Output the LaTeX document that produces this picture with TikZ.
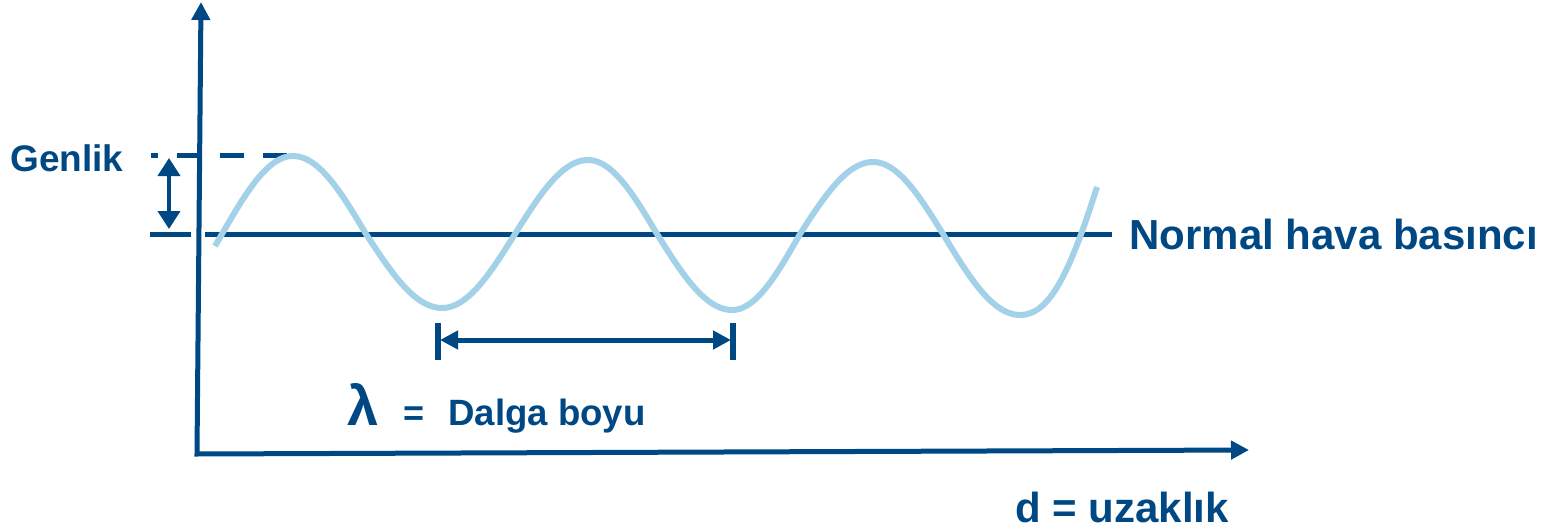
\documentclass[tikz,border=0pt]{standalone}
\usepackage{fontspec}
\setmainfont{Liberation Sans}
\usetikzlibrary{arrows.meta}
\definecolor{dblue}{RGB}{0,72,132}
\definecolor{lblue}{RGB}{163,210,232}
\begin{document}
\begin{tikzpicture}[x=0.5pt,y=-0.5pt,
  axisline/.style={draw=dblue,line width=2.5pt},
  lbl/.style={text=dblue,inner sep=0pt,font=\bfseries},
  wave/.style={draw=lblue,line width=3pt,line join=round}]
\useasboundingbox (0,0) rectangle (1560,530);
% axes
\coordinate (O) at (197,454);
\coordinate (ytop) at (201,2);
\coordinate (xend) at (1249,450);
\draw[axisline,{Triangle[length=9pt,width=9pt]}-{Triangle[length=9pt,width=9pt]}] (ytop) -- (O) -- (xend);
% normal pressure line
\coordinate (nl) at (205,234);
\coordinate (nr) at (1112,234);
\draw[axisline] (nl) -- (nr);
\coordinate (tl) at (150,234);
\coordinate (tr) at (191,234);
\draw[axisline] (tl) -- (tr);
% dashed amplitude level
\coordinate (dl) at (151,155);
\coordinate (dr) at (287,155);
\draw[axisline,dash pattern=on 12pt off 9.5pt,dash phase=8.5pt] (dl) -- (dr);
% amplitude arrow
\coordinate (at) at (169,158);
\coordinate (ab) at (169,229);
\draw[draw=dblue,line width=2pt,{Triangle[length=9pt,width=11pt]}-{Triangle[length=9pt,width=11pt]}] (at) -- (ab);
% wavelength marker
\coordinate (w1t) at (438,323);
\coordinate (w1b) at (438,360);
\coordinate (w2t) at (733,323);
\coordinate (w2b) at (733,360);
\draw[draw=dblue,line width=3pt] (w1t) -- (w1b);
\draw[draw=dblue,line width=3pt] (w2t) -- (w2b);
\coordinate (wa) at (440,340);
\coordinate (wb) at (731,340);
\draw[draw=dblue,line width=2.5pt,{Triangle[length=9pt,width=9pt]}-{Triangle[length=9pt,width=9pt]}] (wa) -- (wb);
% wave
\coordinate (tr3) at (1020,315);
\coordinate (wend) at (1097,187);
\draw[wave]
  plot[domain=215:293,samples=30] (\x,{234-78*sin(90*(\x-222)/71)})
  -- plot[domain=293:366,samples=30] (\x,{234-78*cos(90*(\x-293)/73)})
  -- plot[domain=366:442,samples=30] (\x,{234+74*sin(90*(\x-366)/76)})
  -- plot[domain=442:515,samples=30] (\x,{234+74*cos(90*(\x-442)/73)})
  -- plot[domain=515:588,samples=30] (\x,{234-74*sin(90*(\x-515)/73)})
  -- plot[domain=588:657,samples=30] (\x,{234-74*cos(90*(\x-588)/69)})
  -- plot[domain=657:732,samples=30] (\x,{234+76*sin(90*(\x-657)/75)})
  -- plot[domain=732:800,samples=30] (\x,{234+76*cos(90*(\x-732)/68)})
  -- plot[domain=800:873,samples=30] (\x,{234-72*sin(90*(\x-800)/73)})
  -- plot[domain=873:943,samples=30] (\x,{234-72*cos(90*(\x-873)/70)})
  -- plot[domain=943:1020,samples=30] (\x,{234+81*sin(90*(\x-943)/77)})
  -- (tr3) .. controls (1050,315) and (1070,272) .. (wend);
% labels
\node[lbl,anchor=base west,font=\fontsize{18.5}{20}\selectfont\bfseries] (genlik) at (10,171) {Genlik};
\node[lbl,anchor=base west,font=\fontsize{21}{24}\selectfont\bfseries] (normal) at (1129,249) {Normal hava basıncı};
\node[lbl,anchor=base west,font=\fontsize{21}{24}\selectfont\bfseries] (dist) at (1015,522) {d = uzaklık};
\node[lbl,anchor=base west,font=\fontsize{28}{30}\selectfont\bfseries] (lam) at (347,425) {λ};
\node[lbl,anchor=base west,font=\fontsize{18}{20}\selectfont\bfseries] (eq) at (403,425) {=};
\node[lbl,anchor=base west,font=\fontsize{18.3}{20}\selectfont\bfseries] (dalga) at (448,425) {Dalga boyu};
\end{tikzpicture}
\end{document}
